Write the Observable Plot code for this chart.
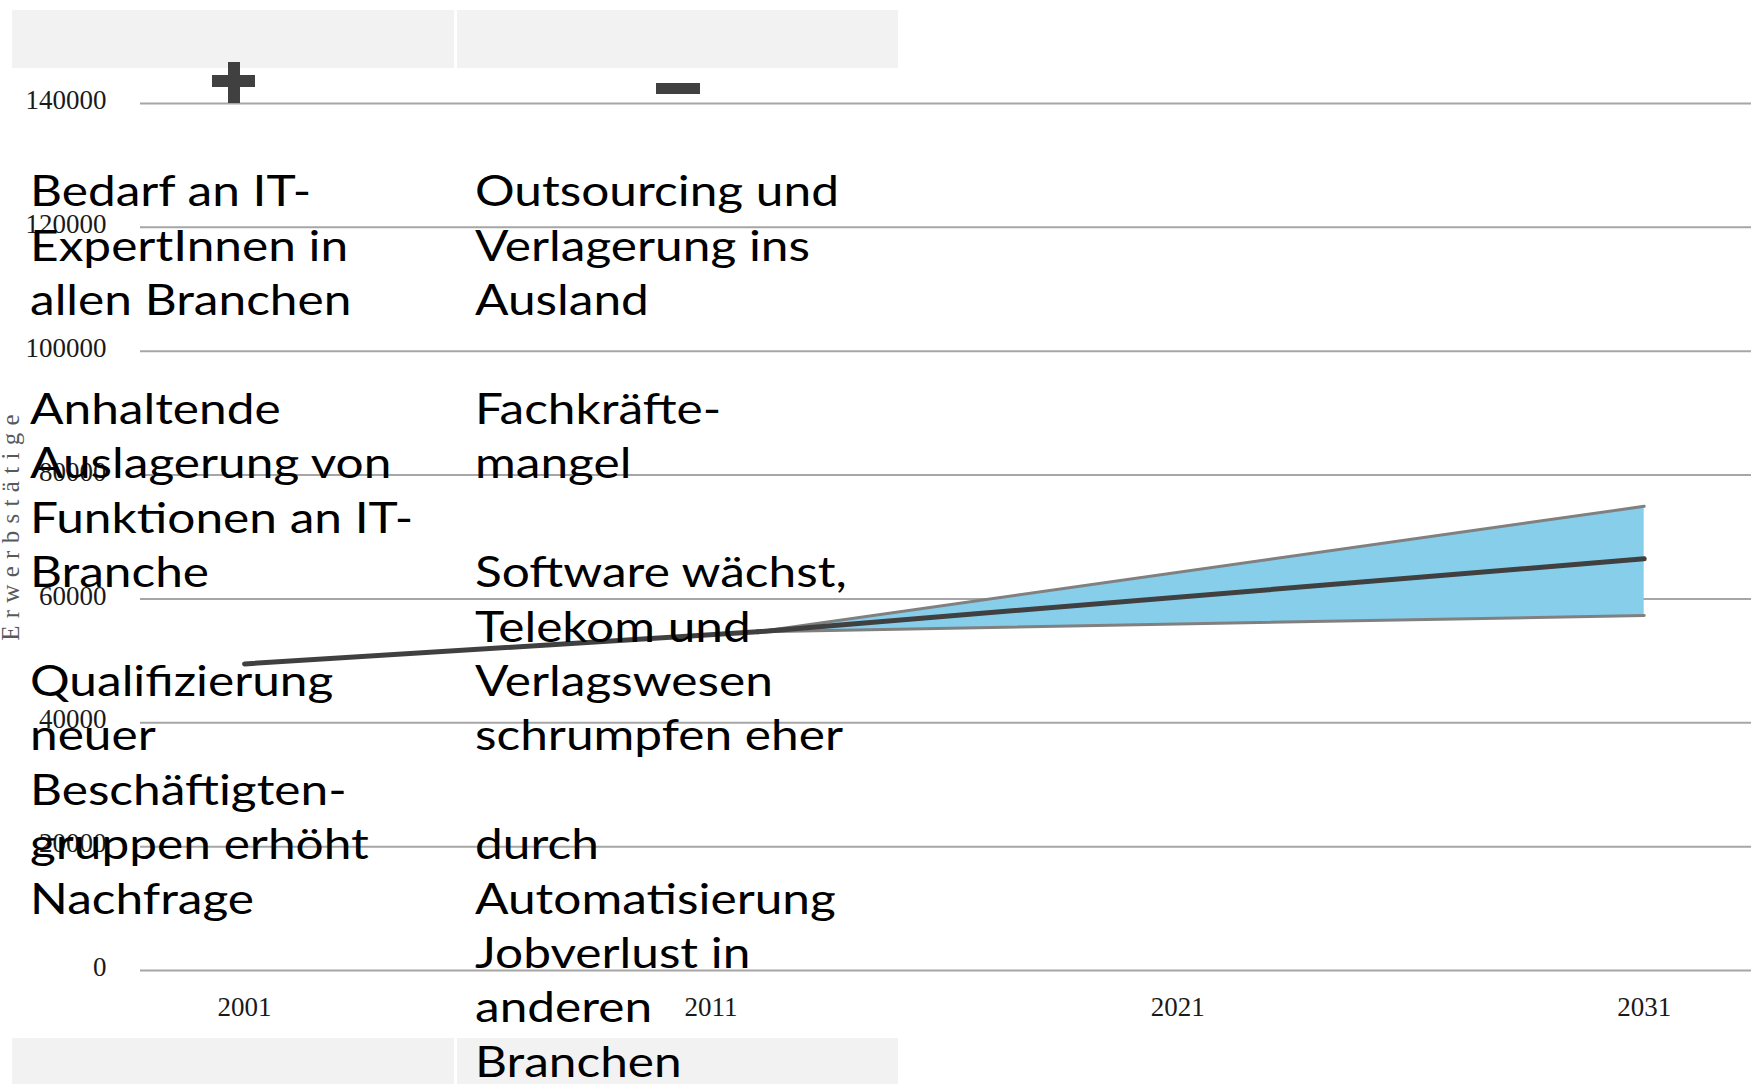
<!DOCTYPE html>
<html><head><meta charset="utf-8">
<script src="https://cdn.jsdelivr.net/npm/d3@7"></script>
<script src="https://cdn.jsdelivr.net/npm/@observablehq/plot@0.6"></script>
<style>
html,body{margin:0;padding:0;background:#fff;}
#wrap{position:relative;width:1758px;height:1084px;overflow:hidden;}
#wrap > svg{position:absolute;left:0;top:0;}
</style></head><body><div id="wrap"></div>
<script>
// ---- data ----
const histYears = [2001, 2012];
const histValues = [49500, 54700];
const projYears = [2012, 2031];
const projMid = [54700, 66480];
const projHigh = [54700, 74950];
const projLow = [54700, 57330];
const yTicks = [0, 20000, 40000, 60000, 80000, 100000, 120000, 140000];
const xTicks = [2001, 2011, 2021, 2031];
const yLabel = "Erwerbstätige";
const headPlus = "+";
const headMinus = "−";
const colPlus = [
  "Bedarf an IT-", "ExpertInnen in", "allen Branchen", "",
  "Anhaltende", "Auslagerung von", "Funktionen an IT-", "Branche", "",
  "Qualifizierung", "neuer", "Beschäftigten-", "gruppen erhöht", "Nachfrage"
];
const colMinus = [
  "Outsourcing und", "Verlagerung ins", "Ausland", "",
  "Fachkräfte-", "mangel", "",
  "Software wächst,", "Telekom und", "Verlagswesen", "schrumpfen eher", "",
  "durch", "Automatisierung", "Jobverlust in", "anderen", "Branchen"
];

const hist = histYears.map((x, i) => ({year: x, v: histValues[i]}));
const proj = projYears.map((x, i) => ({year: x, mid: projMid[i], hi: projHigh[i], lo: projLow[i]}));

const W = 1758, H = 1084;
const plot = Plot.plot({
  width: W, height: H,
  marginTop: 103, marginBottom: 114, marginLeft: 140, marginRight: 7,
  style: {fontFamily: "'Liberation Serif', 'Times New Roman', serif", fontSize: "27px", color: "#1a1a1a", background: "transparent", overflow: "visible"},
  x: {domain: [1998.77, 2033.3]},
  y: {domain: [0, 140000]},
  marks: [
    Plot.gridY(yTicks, {stroke: "#a6a6a6", strokeOpacity: 1, strokeWidth: 2}),
    Plot.areaY(proj, {x: "year", y1: "lo", y2: "hi", fill: "#87CEEB"}),
    Plot.line(proj, {x: "year", y: "hi", stroke: "#808080", strokeWidth: 3}),
    Plot.line(proj, {x: "year", y: "lo", stroke: "#808080", strokeWidth: 3}),
    Plot.line(hist, {x: "year", y: "v", stroke: "#404040", strokeWidth: 5}),
    Plot.line(proj, {x: "year", y: "mid", stroke: "#404040", strokeWidth: 5}),
    Plot.axisY(yTicks, {tickSize: 0, tickPadding: 34, fontSize: 27, dy: -3, tickFormat: d => String(d), label: null}),
    Plot.axisY({ticks: [], tickSize: 0, label: yLabel, labelAnchor: "center", labelArrow: "none", labelOffset: 139, fontSize: 25}),
    Plot.axisX(xTicks, {tickSize: 0, tickPadding: 26, fontSize: 27, tickFormat: d => String(d), label: null})
  ]
});
document.getElementById("wrap").appendChild(plot);

// axis title styling (spaced grey serif)
d3.select(plot).selectAll('g[aria-label="y-axis label"] text')
  .attr("fill", "#595959").style("font-size", "25px").style("letter-spacing", "7.3px").attr("dx", 13);

// ---- overlay (table of factors) ----
const ov = d3.select("#wrap").append("svg").attr("width", W).attr("height", H)
  .style("pointer-events", "none");
const boxes = [[12, 10, 442, 58], [457, 10, 441, 58], [12, 1038, 442, 60], [457, 1038, 441, 60]];
ov.selectAll("rect.box").data(boxes).join("rect").attr("class", "box")
  .attr("x", d => d[0]).attr("y", d => d[1]).attr("width", d => d[2]).attr("height", d => d[3])
  .attr("fill", "#f2f2f2");
// plus / minus signs
ov.append("rect").attr("x", 212).attr("y", 75).attr("width", 43).attr("height", 12).attr("fill", "#404040");
ov.append("rect").attr("x", 228).attr("y", 62).attr("width", 12).attr("height", 41).attr("fill", "#404040");
ov.append("rect").attr("x", 656).attr("y", 83).attr("width", 44).attr("height", 11).attr("fill", "#404040");
ov.append("title").text(headPlus + " / " + headMinus);

const fontFam = "Lato, 'Noto Sans', sans-serif";
const fs = 42, lh = 54.4, base0 = 206.5;
function col(lines, x) {
  const g = ov.append("g").attr("font-family", fontFam).attr("font-size", fs)
    .attr("font-weight", 400).attr("fill", "#000")
    .attr("transform", `translate(${x},0)`);
  g.selectAll("text").data(lines).join("text")
    .attr("x", 0).attr("y", (d, i) => base0 + i * lh).text(d => d);
  return g;
}
const g1 = col(colPlus, 30);
const g2 = col(colMinus, 475);
// wide geometric face: stretch horizontally so a reference line gets the width
const len = g2.select("text").node().getComputedTextLength();
const sx = 364 / len;
g1.attr("transform", `translate(30,0) scale(${sx},1)`);
g2.attr("transform", `translate(475,0) scale(${sx},1)`);
</script>
</body></html>
